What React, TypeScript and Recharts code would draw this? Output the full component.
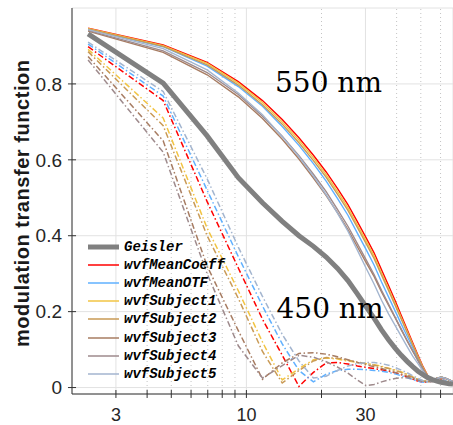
import { CartesianGrid, Legend, Line, LineChart, ReferenceLine, XAxis, YAxis } from "recharts"

// spatial frequency (cycles/deg)
const freq = [
  2.32, 4.64, 6.96, 9.28, 11.6, 13.92, 16.24, 18.56, 20.88, 23.2, 25.52, 27.84, 30.16, 32.48, 34.8,
  37.12, 39.44, 41.76, 44.08, 46.4, 48.72, 51.04, 53.36, 55.68, 58, 60.32, 62.64, 64.96, 67.28,
]

const geisler = [
  0.932, 0.802, 0.663, 0.553, 0.487, 0.438, 0.4, 0.372, 0.344, 0.314, 0.282, 0.247, 0.213, 0.183, 0.152,
  0.126, 0.104, 0.085, 0.069, 0.055, 0.043, 0.034, 0.026, 0.021, 0.017, 0.014, 0.012, 0.01, 0.009,
]

// 550 nm
const meanCoeff550 = [
  0.947, 0.903, 0.857, 0.806, 0.756, 0.706, 0.658, 0.612, 0.568, 0.524, 0.482, 0.437, 0.395, 0.355, 0.31,
  0.269, 0.229, 0.19, 0.153, 0.118, 0.085, 0.055, 0.031, 0.02, 0.024, 0.027, 0.025, 0.02, 0.015,
]
const meanOTF550 = [
  0.944, 0.898, 0.847, 0.793, 0.741, 0.688, 0.638, 0.59, 0.544, 0.498, 0.454, 0.407, 0.364, 0.323, 0.278,
  0.239, 0.202, 0.167, 0.135, 0.105, 0.077, 0.051, 0.029, 0.02, 0.025, 0.028, 0.025, 0.02, 0.015,
]
const subject1_550 = [
  0.946, 0.901, 0.854, 0.802, 0.751, 0.7, 0.652, 0.605, 0.561, 0.516, 0.474, 0.429, 0.387, 0.347, 0.302,
  0.261, 0.222, 0.184, 0.148, 0.114, 0.082, 0.053, 0.03, 0.02, 0.025, 0.028, 0.025, 0.02, 0.015,
]
const subject2_550 = [
  0.945, 0.899, 0.85, 0.797, 0.745, 0.694, 0.645, 0.598, 0.554, 0.509, 0.467, 0.422, 0.38, 0.34, 0.296,
  0.256, 0.217, 0.18, 0.145, 0.112, 0.081, 0.052, 0.029, 0.019, 0.023, 0.026, 0.024, 0.019, 0.014,
]
const subject3_550 = [
  0.939, 0.883, 0.824, 0.766, 0.709, 0.654, 0.602, 0.552, 0.506, 0.46, 0.416, 0.371, 0.33, 0.293, 0.252,
  0.217, 0.184, 0.152, 0.123, 0.096, 0.071, 0.047, 0.028, 0.02, 0.024, 0.027, 0.025, 0.02, 0.015,
]
const subject4_550 = [
  0.941, 0.887, 0.83, 0.772, 0.715, 0.662, 0.611, 0.562, 0.516, 0.469, 0.425, 0.379, 0.337, 0.298, 0.256,
  0.22, 0.186, 0.154, 0.124, 0.097, 0.072, 0.048, 0.028, 0.02, 0.024, 0.027, 0.025, 0.02, 0.015,
]
const subject5_550 = [
  0.943, 0.893, 0.837, 0.776, 0.719, 0.661, 0.608, 0.557, 0.508, 0.459, 0.412, 0.362, 0.315, 0.273, 0.23,
  0.194, 0.164, 0.135, 0.108, 0.083, 0.063, 0.043, 0.027, 0.02, 0.024, 0.027, 0.025, 0.02, 0.015,
]

// 450 nm
const meanCoeff450 = [
  0.898, 0.756, 0.49, 0.315, 0.18, 0.085, 0.003, 0.04, 0.065, 0.066, 0.062, 0.057, 0.053, 0.05, 0.047,
  0.043, 0.039, 0.034, 0.028, 0.022, 0.017, 0.014, 0.015, 0.02, 0.025, 0.022, 0.018, 0.013, 0.009,
]
const meanOTF450 = [
  0.905, 0.768, 0.52, 0.345, 0.215, 0.115, 0.045, 0.015, 0.035, 0.045, 0.048, 0.048, 0.047, 0.045, 0.043,
  0.04, 0.036, 0.031, 0.026, 0.021, 0.017, 0.014, 0.015, 0.02, 0.025, 0.022, 0.018, 0.013, 0.009,
]
const subject1_450 = [
  0.891, 0.71, 0.42, 0.255, 0.12, 0.02, 0.05, 0.073, 0.078, 0.075, 0.07, 0.066, 0.063, 0.06, 0.056,
  0.051, 0.046, 0.041, 0.035, 0.028, 0.022, 0.018, 0.016, 0.019, 0.023, 0.02, 0.016, 0.012, 0.008,
]
const subject2_450 = [
  0.885, 0.69, 0.4, 0.235, 0.095, 0.012, 0.045, 0.07, 0.079, 0.077, 0.072, 0.067, 0.063, 0.059, 0.055,
  0.05, 0.045, 0.04, 0.034, 0.027, 0.021, 0.017, 0.015, 0.018, 0.022, 0.019, 0.015, 0.011, 0.008,
]
const subject3_450 = [
  0.872, 0.65, 0.32, 0.15, 0.022, 0.065, 0.09, 0.092, 0.088, 0.081, 0.073, 0.066, 0.06, 0.055, 0.05,
  0.045, 0.04, 0.035, 0.03, 0.025, 0.02, 0.017, 0.015, 0.017, 0.02, 0.018, 0.015, 0.011, 0.008,
]
const subject4_450 = [
  0.863, 0.62, 0.3, 0.11, 0.025, 0.058, 0.085, 0.08, 0.068, 0.054, 0.038, 0.02, 0.005, 0.008, 0.015,
  0.02, 0.024, 0.026, 0.026, 0.024, 0.021, 0.017, 0.014, 0.015, 0.018, 0.016, 0.013, 0.01, 0.007,
]
const subject5_450 = [
  0.91, 0.78, 0.55, 0.37, 0.24, 0.14, 0.07, 0.025, 0.03, 0.045, 0.057, 0.063, 0.066, 0.066, 0.063,
  0.059, 0.053, 0.046, 0.039, 0.031, 0.024, 0.018, 0.016, 0.02, 0.024, 0.021, 0.017, 0.013, 0.009,
]

const xTicks = [3, 10, 30]
const xMinor = [4, 5, 6, 7, 8, 9, 20, 40, 50, 60]
const yTicks = [0, 0.2, 0.4, 0.6, 0.8]

const series = [
  { name: "wvfMeanCoeff", at550: meanCoeff550, at450: meanCoeff450, color: "#ff0000" },
  { name: "wvfMeanOTF", at550: meanOTF550, at450: meanOTF450, color: "#5fb0ff" },
  { name: "wvfSubject1", at550: subject1_550, at450: subject1_450, color: "#f2c443" },
  { name: "wvfSubject2", at550: subject2_550, at450: subject2_450, color: "#c99a55" },
  { name: "wvfSubject3", at550: subject3_550, at450: subject3_450, color: "#a77c62" },
  { name: "wvfSubject4", at550: subject4_550, at450: subject4_450, color: "#9e8a8c" },
  { name: "wvfSubject5", at550: subject5_550, at450: subject5_450, color: "#a3b5cf" },
]

const data = freq.map((f, i) => {
  const row: Record<string, number> = { f, Geisler: geisler[i] }
  series.forEach((s) => {
    row[s.name + "_550"] = s.at550[i]
    row[s.name + "_450"] = s.at450[i]
  })
  return row
})

const Y_MIN = -0.017
const AXIS = "#333333"
const yTickFont = { fontFamily: "Liberation Sans, Arial, sans-serif", fontSize: 19, fill: "#262626" }
const xTickFont = { fontFamily: "Liberation Sans, Arial, sans-serif", fontSize: 18, fill: "#262626" }

const legendRows = [
  { name: "Geisler", color: "#808080", width: 5 },
  ...series.map((s) => ({ name: s.name, color: s.color, width: 1.5 })),
]

function LegendBox() {
  return (
    <div>
      {legendRows.map((r) => (
        <div key={r.name} style={{ display: "flex", alignItems: "center", height: 18.2 }}>
          <svg width={32} height={8} style={{ display: "block" }}>
            <line x1={0} y1={4} x2={31} y2={4} stroke={r.color} strokeWidth={r.width} />
          </svg>
          <span
            style={{
              marginLeft: 4,
              fontFamily: "Liberation Mono, Courier New, monospace",
              fontWeight: "bold",
              fontStyle: "italic",
              fontSize: 14,
              color: "#000",
              whiteSpace: "nowrap",
              lineHeight: "18px",
            }}
          >
            {r.name}
          </span>
        </div>
      ))}
    </div>
  )
}

export default function App() {
  return (
    <div style={{ position: "absolute", left: 0, top: 0, width: 453, height: 425, background: "#fff", overflow: "hidden" }}>
      <LineChart width={453} height={425} data={data} margin={{ top: 8, right: 0, bottom: 0, left: 0 }}>
        <CartesianGrid stroke="#e2e2e2" />
        {xMinor.map((v) => (
          <ReferenceLine key={"g" + v} x={v} stroke="#c4c4c4" strokeDasharray="1 3" />
        ))}
        <XAxis
          dataKey="f"
          type="number"
          scale="log"
          domain={[2, 67.3]}
          allowDataOverflow
          ticks={xTicks}
          tickLine={false}
          tickSize={4}
          tickMargin={10}
          height={31}
          axisLine={{ stroke: AXIS }}
          tick={xTickFont}
        />
        <YAxis
          type="number"
          domain={[Y_MIN, 1]}
          allowDataOverflow
          ticks={yTicks}
          tickFormatter={(v: number) => String(v)}
          tickLine={false}
          tickSize={4}
          tickMargin={6}
          width={72}
          axisLine={{ stroke: AXIS }}
          tick={yTickFont}
        />
        {[...xTicks, ...xMinor].map((v) => (
          <ReferenceLine
            key={"xt" + v}
            segment={[{ x: v, y: Y_MIN - 0.0105 }, { x: v, y: Y_MIN + 0.0105 }]}
            stroke={AXIS}
            ifOverflow="visible"
          />
        ))}
        {yTicks.map((v) => (
          <ReferenceLine
            key={"yt" + v}
            segment={[{ x: 1.927, y: v }, { x: 2.076, y: v }]}
            stroke={AXIS}
            ifOverflow="visible"
          />
        ))}
        {series.map((s) => (
          <Line
            key={s.name + "450"}
            type="linear"
            dataKey={s.name + "_450"}
            stroke={s.color}
            strokeWidth={1.5}
            strokeDasharray="6 2.5 1.5 2.5"
            dot={false}
            isAnimationActive={false}
          />
        ))}
        {series.map((s) => (
          <Line
            key={s.name + "550"}
            type="linear"
            dataKey={s.name + "_550"}
            stroke={s.color}
            strokeWidth={1.4}
            dot={false}
            isAnimationActive={false}
          />
        ))}
        <Line type="linear" dataKey="Geisler" stroke="#808080" strokeWidth={5} dot={false} isAnimationActive={false} />
        <Legend
          layout="vertical"
          align="center"
          verticalAlign="middle"
          wrapperStyle={{ left: 88, top: 237.5, width: 170 }}
          content={() => <LegendBox />}
        />
      </LineChart>
      <svg width={453} height={425} style={{ position: "absolute", left: 0, top: 0, pointerEvents: "none" }}>
        <text
          x={28.5}
          y={203.5}
          transform="rotate(-90 28.5 203.5)"
          textAnchor="middle"
          textLength={287}
          lengthAdjust="spacing"
          fontFamily="Liberation Sans, Arial, sans-serif"
          fontWeight="bold"
          fontSize={20}
          fill="#1a1a1a"
        >
          modulation transfer function
        </text>
        <text x={275} y={91.5} fontFamily="DejaVu Serif, serif" fontSize={28} fill="#000">
          550 nm
        </text>
        <text x={276.5} y={318} fontFamily="DejaVu Serif, serif" fontSize={28} fill="#000">
          450 nm
        </text>
      </svg>
    </div>
  )
}
